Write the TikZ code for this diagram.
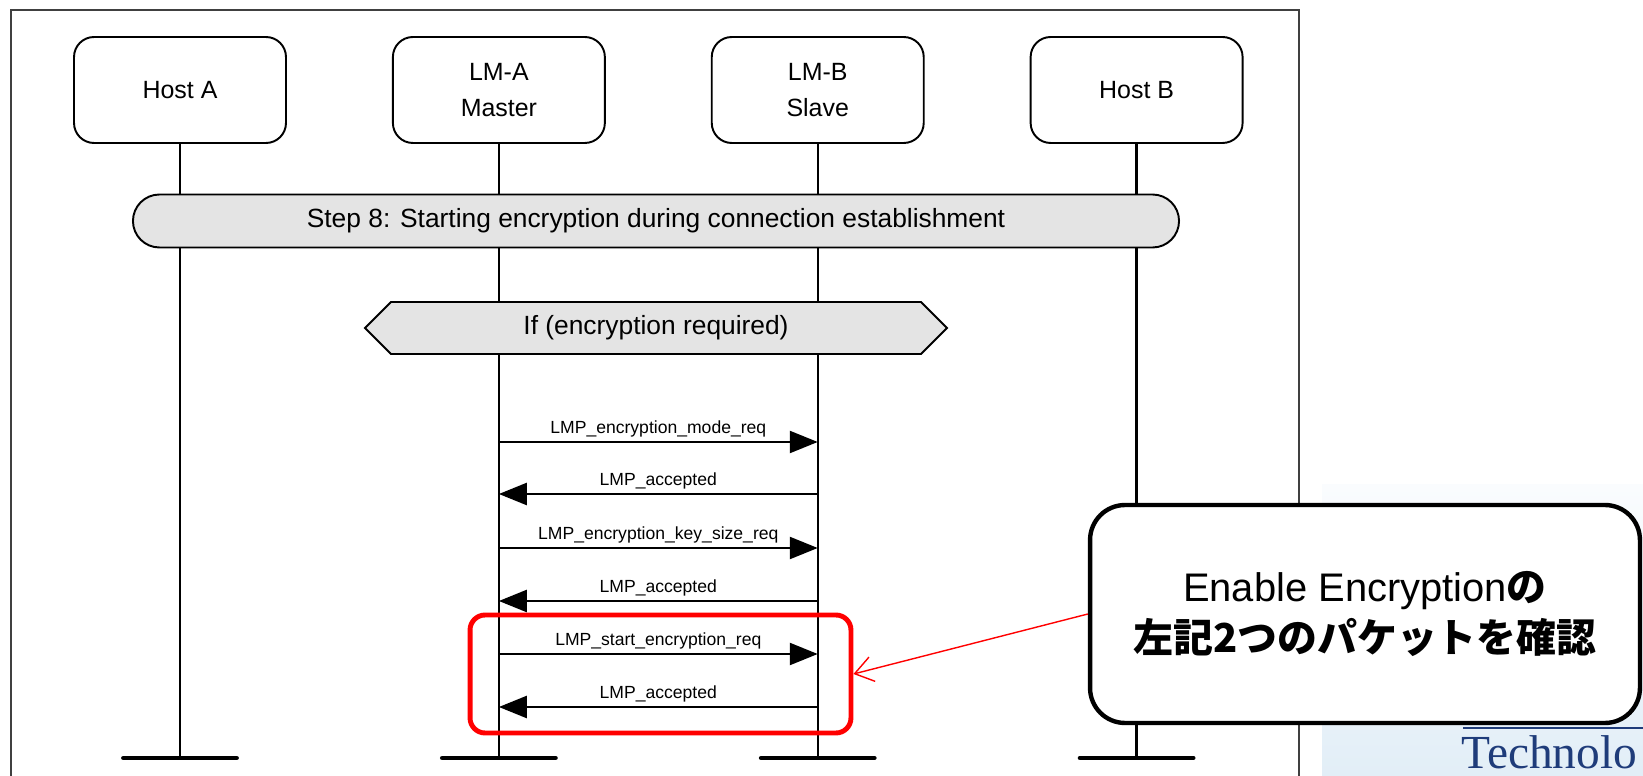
\documentclass[tikz,border=0pt]{standalone}
\usepackage{fontspec}
\setmainfont{Liberation Sans}
\newfontfamily\cjk{Noto Sans CJK JP}
\newfontfamily\logofont{Liberation Serif}
\usetikzlibrary{arrows.meta,shapes.misc,shapes.symbols,positioning}

\definecolor{barfill}{HTML}{E4E4E4}
\definecolor{logoblue}{HTML}{1F3C7A}
\definecolor{logotop}{HTML}{FAFCFE}
\definecolor{logobot}{HTML}{E2EEF7}

\begin{document}
\begin{tikzpicture}[
  x=0.02cm, y=-0.02cm,
  node distance=2.1cm,
  head/.style={rectangle,rounded corners=0.4cm,draw,line width=1.1pt,fill=white,minimum width=4.24cm,minimum height=2.12cm,align=center,font=\fontsize{14.2}{20.4}\selectfont},
  life/.style={line width=1.4pt},
  endbar/.style={line width=2.8pt,line cap=round},
  stepbar/.style={rounded rectangle,draw,line width=1.1pt,fill=barfill,minimum width=21.16cm,minimum height=1.06cm,font=\fontsize{15}{18}\selectfont},
  cond/.style={signal,signal to=west and east,signal pointer angle=90,draw,line width=1.1pt,fill=barfill,minimum width=11.64cm,minimum height=1.04cm,font=\fontsize{15}{18}\selectfont},
  msg/.style={line width=1.4pt,-{Triangle[length=0.56cm,width=0.44cm]}},
  lbl/.style={above,inner sep=2pt,font=\fontsize{10}{12}\selectfont},
  redbox/.style={rectangle,draw=red,line width=2.8pt,rounded corners=0.3cm,minimum width=7.62cm,minimum height=2.36cm},
  note/.style={rectangle,draw,line width=2.5pt,rounded corners=0.7cm,fill=white,minimum width=11cm,minimum height=4.36cm,align=center,font=\fontsize{22.7}{29.5}\selectfont},
  pointer/.style={red,line width=0.8pt,-{Straight Barb[length=0.36cm,width=0.5cm]}}
]
\useasboundingbox (0,0) rectangle (1643,776);
\clip (0,0) rectangle (1643,776);

% page frame
\draw[line width=0.8pt,black!75] (11,10) rectangle (1299,800);

% participants
\node[head] (hostA) at (180,90) {Host A};
\node[head,right=of hostA] (lmA) {LM-A\\Master};
\node[head,right=of lmA] (lmB) {LM-B\\Slave};
\node[head,right=of lmB] (hostB) {Host B};

% lifelines
\coordinate (bottom) at (0,758);
\coordinate (hostA-end) at (hostA |- bottom);
\coordinate (lmA-end) at (lmA |- bottom);
\coordinate (lmB-end) at (lmB |- bottom);
\coordinate (hostB-end) at (hostB |- bottom);
\draw[life] (hostA.south) -- (hostA-end);
\draw[life] (lmA.south) -- (lmA-end);
\draw[life] (lmB.south) -- (lmB-end);
\draw[life] (hostB.south) -- (hostB-end);
\draw[endbar] ([xshift=-1.13cm]hostA-end) -- ([xshift=1.13cm]hostA-end);
\draw[endbar] ([xshift=-1.13cm]lmA-end) -- ([xshift=1.13cm]lmA-end);
\draw[endbar] ([xshift=-1.13cm]lmB-end) -- ([xshift=1.13cm]lmB-end);
\draw[endbar] ([xshift=-1.13cm]hostB-end) -- ([xshift=1.13cm]hostB-end);

\node[stepbar] (step8) at (656,221) {Step 8: Starting encryption during connection establishment};
\node[cond] (ifenc) at (656,328) {If (encryption required)};

% messages
\coordinate (m1a) at (lmA |- 0,442);  \coordinate (m1b) at (lmB |- 0,442);
\coordinate (m2a) at (lmA |- 0,494);  \coordinate (m2b) at (lmB |- 0,494);
\coordinate (m3a) at (lmA |- 0,548);  \coordinate (m3b) at (lmB |- 0,548);
\coordinate (m4a) at (lmA |- 0,601);  \coordinate (m4b) at (lmB |- 0,601);
\coordinate (m5a) at (lmA |- 0,654);  \coordinate (m5b) at (lmB |- 0,654);
\coordinate (m6a) at (lmA |- 0,707);  \coordinate (m6b) at (lmB |- 0,707);
\draw[msg] (m1a) -- node[lbl] {LMP\_encryption\_mode\_req} (m1b);
\draw[msg] (m2b) -- node[lbl] {LMP\_accepted} (m2a);
\draw[msg] (m3a) -- node[lbl] {LMP\_encryption\_key\_size\_req} (m3b);
\draw[msg] (m4b) -- node[lbl] {LMP\_accepted} (m4a);
\draw[msg] (m5a) -- node[lbl] {LMP\_start\_encryption\_req} (m5b);
\draw[msg] (m6b) -- node[lbl] {LMP\_accepted} (m6a);

\node[redbox] (hl) at (660.5,674) {};

% logo corner
\shade[top color=logotop,bottom color=logobot] (1322,485) rectangle (1643,776);
\draw[logoblue,line width=0.8pt] (1463,728) -- (1643,728);
\node[anchor=base west,inner sep=0,text height=0.68em,text depth=0pt,text=logoblue,font=\logofont\fontsize{27}{28}\selectfont] (logo) at (1461,768) {Technolo};

\node[note] (note) at (1365,614) {Enable Encryption{\cjk\bfseries の}\\{\cjk\bfseries 左記2つのパケットを確認}};
\draw[pointer] (note.west) -- (hl.east);
\end{tikzpicture}
\end{document}
